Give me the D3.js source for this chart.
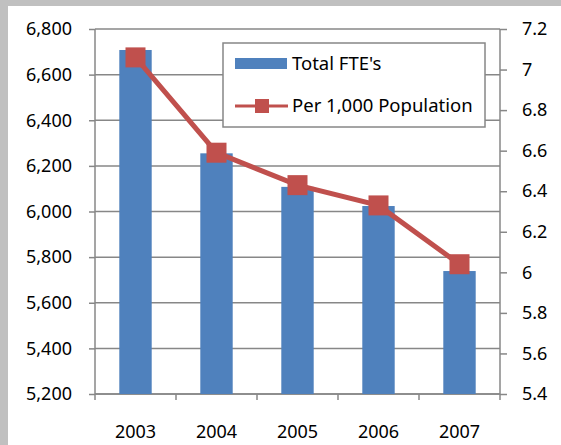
<!DOCTYPE html>
<html>
<head>
<meta charset="utf-8">
<script src="https://cdnjs.cloudflare.com/ajax/libs/d3/7.8.5/d3.min.js"></script>
<style>
  html, body { margin: 0; padding: 0; background: #c0c0c0; }
  svg { display: block; }
  text { font-family: "Noto Sans", "Open Sans", sans-serif; fill: #000; }
</style>
</head>
<body>
<div id="chart"></div>
<script>
// data
var years = ["2003", "2004", "2005", "2006", "2007"];
var fteValues = [6708, 6255, 6108, 6024, 5739];
var perThousand = [7.06, 6.59, 6.43, 6.33, 6.04];
var leftTicks = [5200, 5400, 5600, 5800, 6000, 6200, 6400, 6600, 6800];
var rightTicks = [5.4, 5.6, 5.8, 6, 6.2, 6.4, 6.6, 6.8, 7, 7.2];
var seriesNames = ["Total FTE's", "Per 1,000 Population"];

var W = 561, H = 445;
var blue = "#4f81bd", red = "#c0504d", grid = "#878787";

var plot = { left: 95, right: 500, top: 29, bottom: 394 };

var svg = d3.select("#chart").append("svg")
    .attr("width", W)
    .attr("height", H);

// white card over the gray background
svg.append("rect")
    .attr("x", 8).attr("y", 6)
    .attr("width", W - 8).attr("height", H - 6)
    .attr("fill", "#fff");

var x = d3.scaleBand()
    .domain(years)
    .range([plot.left, plot.right])
    .paddingInner(0.6)
    .paddingOuter(0.3);

var yL = d3.scaleLinear()
    .domain([5200, 6800])
    .range([plot.bottom, plot.top]);

var yR = d3.scaleLinear()
    .domain([5.4, 7.2])
    .range([plot.bottom, plot.top]);

// gridlines
svg.append("g").selectAll("line")
    .data(leftTicks)
    .enter().append("line")
    .attr("x1", plot.left).attr("x2", plot.right)
    .attr("y1", function(d) { return yL(d); })
    .attr("y2", function(d) { return yL(d); })
    .attr("stroke", grid)
    .attr("stroke-width", 1.5);

// left axis
var leftAxis = svg.append("g")
    .attr("transform", "translate(" + plot.left + ",0)")
    .call(d3.axisLeft(yL).tickValues(leftTicks).tickSize(6).tickPadding(17)
        .tickFormat(d3.format(",")));

// right axis
var rightAxis = svg.append("g")
    .attr("transform", "translate(" + plot.right + ",0)")
    .call(d3.axisRight(yR).tickValues(rightTicks).tickSize(7).tickPadding(15)
        .tickFormat(function(d) { return String(+d.toFixed(1)); }));

// bottom axis, ticks between categories
var step = x.step();
var xTicks = d3.range(years.length + 1).map(function(i) { return plot.left + i * step; });
var bottomAxis = svg.append("g")
    .attr("transform", "translate(0," + plot.bottom + ")");
bottomAxis.append("line")
    .attr("x1", plot.left).attr("x2", plot.right)
    .attr("stroke", grid).attr("stroke-width", 1.5);
bottomAxis.selectAll(".tk")
    .data(xTicks)
    .enter().append("line")
    .attr("class", "tk")
    .attr("x1", function(d) { return d; })
    .attr("x2", function(d) { return d; })
    .attr("y1", 0).attr("y2", 6)
    .attr("stroke", grid).attr("stroke-width", 1.5);
bottomAxis.selectAll("text")
    .data(years)
    .enter().append("text")
    .attr("x", function(d) { return x(d) + x.bandwidth() / 2; })
    .attr("y", 44)
    .attr("text-anchor", "middle")
    .style("font-size", "18px")
    .text(function(d) { return d; });

[leftAxis, rightAxis].forEach(function(a) {
  a.select(".domain").attr("stroke", grid).attr("stroke-width", 1.5);
  a.selectAll(".tick line").attr("stroke", grid).attr("stroke-width", 1.5);
  a.selectAll(".tick text")
    .style("font-size", "18px")
    .style("font-family", "'Noto Sans', 'Open Sans', sans-serif")
    .attr("fill", "#000");
});
leftAxis.select(".domain").attr("d", "M0," + plot.top + "V" + plot.bottom);
rightAxis.select(".domain").attr("d", "M0," + plot.top + "V" + plot.bottom);

// bars
svg.append("g").selectAll("rect")
    .data(years)
    .enter().append("rect")
    .attr("x", function(d) { return x(d); })
    .attr("width", x.bandwidth())
    .attr("y", function(d, i) { return yL(fteValues[i]); })
    .attr("height", function(d, i) { return plot.bottom - yL(fteValues[i]); })
    .attr("fill", blue);

// line + markers
var line = d3.line()
    .x(function(d, i) { return x(years[i]) + x.bandwidth() / 2; })
    .y(function(d) { return yR(d); });

svg.append("path")
    .datum(perThousand)
    .attr("d", line)
    .attr("fill", "none")
    .attr("stroke", red)
    .attr("stroke-width", 5);

var ms = 20;
svg.append("g").selectAll("rect")
    .data(perThousand)
    .enter().append("rect")
    .attr("x", function(d, i) { return x(years[i]) + x.bandwidth() / 2 - ms / 2; })
    .attr("y", function(d) { return yR(d) - ms / 2; })
    .attr("width", ms).attr("height", ms)
    .attr("fill", red);

// legend
var legend = svg.append("g");
legend.append("rect")
    .attr("x", 223).attr("y", 43)
    .attr("width", 262).attr("height", 84)
    .attr("fill", "#fff")
    .attr("stroke", grid)
    .attr("stroke-width", 1.5);

legend.append("rect")
    .attr("x", 235).attr("y", 58)
    .attr("width", 52).attr("height", 11)
    .attr("fill", blue);
legend.append("text")
    .attr("x", 292).attr("y", 64)
    .attr("dy", "0.35em")
    .style("font-size", "18.5px")
    .text(seriesNames[0]);

legend.append("line")
    .attr("x1", 235).attr("x2", 288)
    .attr("y1", 106).attr("y2", 106)
    .attr("stroke", red).attr("stroke-width", 3);
legend.append("rect")
    .attr("x", 255).attr("y", 99)
    .attr("width", 14).attr("height", 14)
    .attr("fill", red);
legend.append("text")
    .attr("x", 292).attr("y", 106)
    .attr("dy", "0.35em")
    .style("font-size", "18.5px")
    .text(seriesNames[1]);
</script>
</body>
</html>
